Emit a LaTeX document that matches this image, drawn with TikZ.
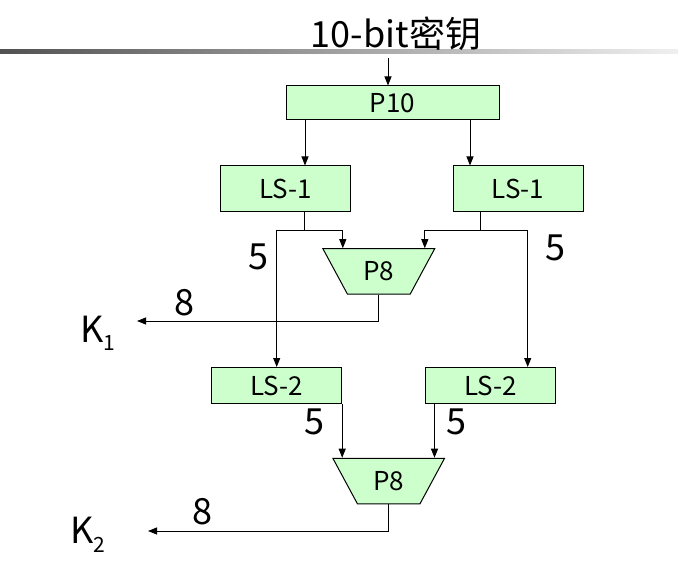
\documentclass[tikz,border=0pt]{standalone}
\usepackage{fontspec}
\setmainfont{Noto Sans CJK SC}
\usetikzlibrary{arrows.meta, positioning, shapes.geometric, calc}
\definecolor{keygreen}{RGB}{204,255,204}

\begin{document}
\begin{tikzpicture}[
  x=1pt, y=-1pt,
  keybox/.style  = {draw=black, fill=keygreen, line width=1pt, inner sep=0pt,
                    minimum width=130pt, font=\fontsize{26}{28}\selectfont},
  permbox/.style = {keybox, shape=trapezium, trapezium stretches=true,
                    shape border rotate=180, trapezium angle=58,
                    minimum width=112pt, minimum height=45.5pt},
  arrow/.style   = {-{Triangle[length=9pt, width=7pt]}, line width=0.8pt},
  wire/.style    = {line width=0.8pt},
  bits/.style    = {font=\fontsize{36}{38}\selectfont, inner sep=0pt},
]
\useasboundingbox (0,0) rectangle (678,588);

%% ==================== HEADER ====================
\shade[left color=black!68, right color=black!6] (0,50) rectangle (678,54);
\node[bits, anchor=base] (title) at (396,48) {10-bit密钥};

%% ==================== BOXES ====================
\node[keybox, minimum width=213pt, minimum height=34pt] (p10) at (392.5,103) {P10};

\node[keybox, minimum height=46pt] (ls1l) at (285.7,189) {LS-1};
\node[keybox, minimum height=46pt] (ls1r) at (518,189)   {LS-1};

\node[permbox] (p8a) at (378.8,271.5) {P8};

\node[keybox, minimum height=36pt] (ls2l) at (276.7,385.5) {LS-2};
\node[keybox, minimum height=36pt] (ls2r) at (490.7,385.5) {LS-2};

\node[permbox] (p8b) at (388.7,481) {P8};

%% Subkeys
\node[bits, anchor=base west] (k1) at (80,343)
      {K\raisebox{-7pt}{\fontsize{21}{21}\selectfont 1}};
\node[bits, anchor=base west] (k2) at (70,543)
      {K\raisebox{-9pt}{\fontsize{21}{21}\selectfont 2}};

%% Bit widths
\node[bits] (w5a) at (258,257) {5};
\node[bits] (w5b) at (555,248) {5};
\node[bits] (w8a) at (184,303) {8};
\node[bits] (w5c) at (314,422) {5};
\node[bits] (w5d) at (456,422) {5};
\node[bits] (w8b) at (202,512) {8};

%% ==================== CONNECTORS ====================
\coordinate (p10in)  at ($(p10.north)+(-4.5,-27)$);
\coordinate (p10l)   at ($(p10.south)+(-87.5,0)$);
\coordinate (p10r)   at ($(p10.south)+(77.5,0)$);
\coordinate (forkl)  at ($(ls1l.south)+(19,18)$);
\coordinate (forkr)  at ($(ls1r.south)+(-38,18)$);
\coordinate (p8al)   at ($(p8a.north)+(-36,0)$);
\coordinate (p8ar)   at ($(p8a.north)+(46,0)$);
\coordinate (ls2rin) at ($(ls2r.north)+(37,0)$);
\coordinate (ls2rout) at ($(ls2r.south west)+(9.3,0)$);
\coordinate (k1in)   at (137,321);
\coordinate (k2in)   at (148,531);

\draw[arrow] (p10in) -- (p10in |- p10.north);
\draw[arrow] (p10l) -- (p10l |- ls1l.north);
\draw[arrow] (p10r) -- (p10r |- ls1r.north);

%% Left half after LS-1
\draw[wire]  (ls1l.south -| forkl) -- (forkl);
\draw[arrow] (forkl) -| (ls2l.north);
\draw[arrow] (forkl) -| (p8al);

%% Right half after LS-1
\draw[wire]  (ls1r.south -| forkr) -- (forkr);
\draw[arrow] (forkr) -| (p8ar);
\draw[arrow] (forkr) -| (ls2rin);

\draw[arrow] (p8a.south) |- (k1in);

%% LS-2 into the second P8
\draw[arrow] (ls2l.south east) -- (ls2l.south east |- p8b.north);
\draw[arrow] (ls2rout) -- (ls2rout |- p8b.north);

\draw[arrow] (p8b.south) |- (k2in);

\end{tikzpicture}
\end{document}
